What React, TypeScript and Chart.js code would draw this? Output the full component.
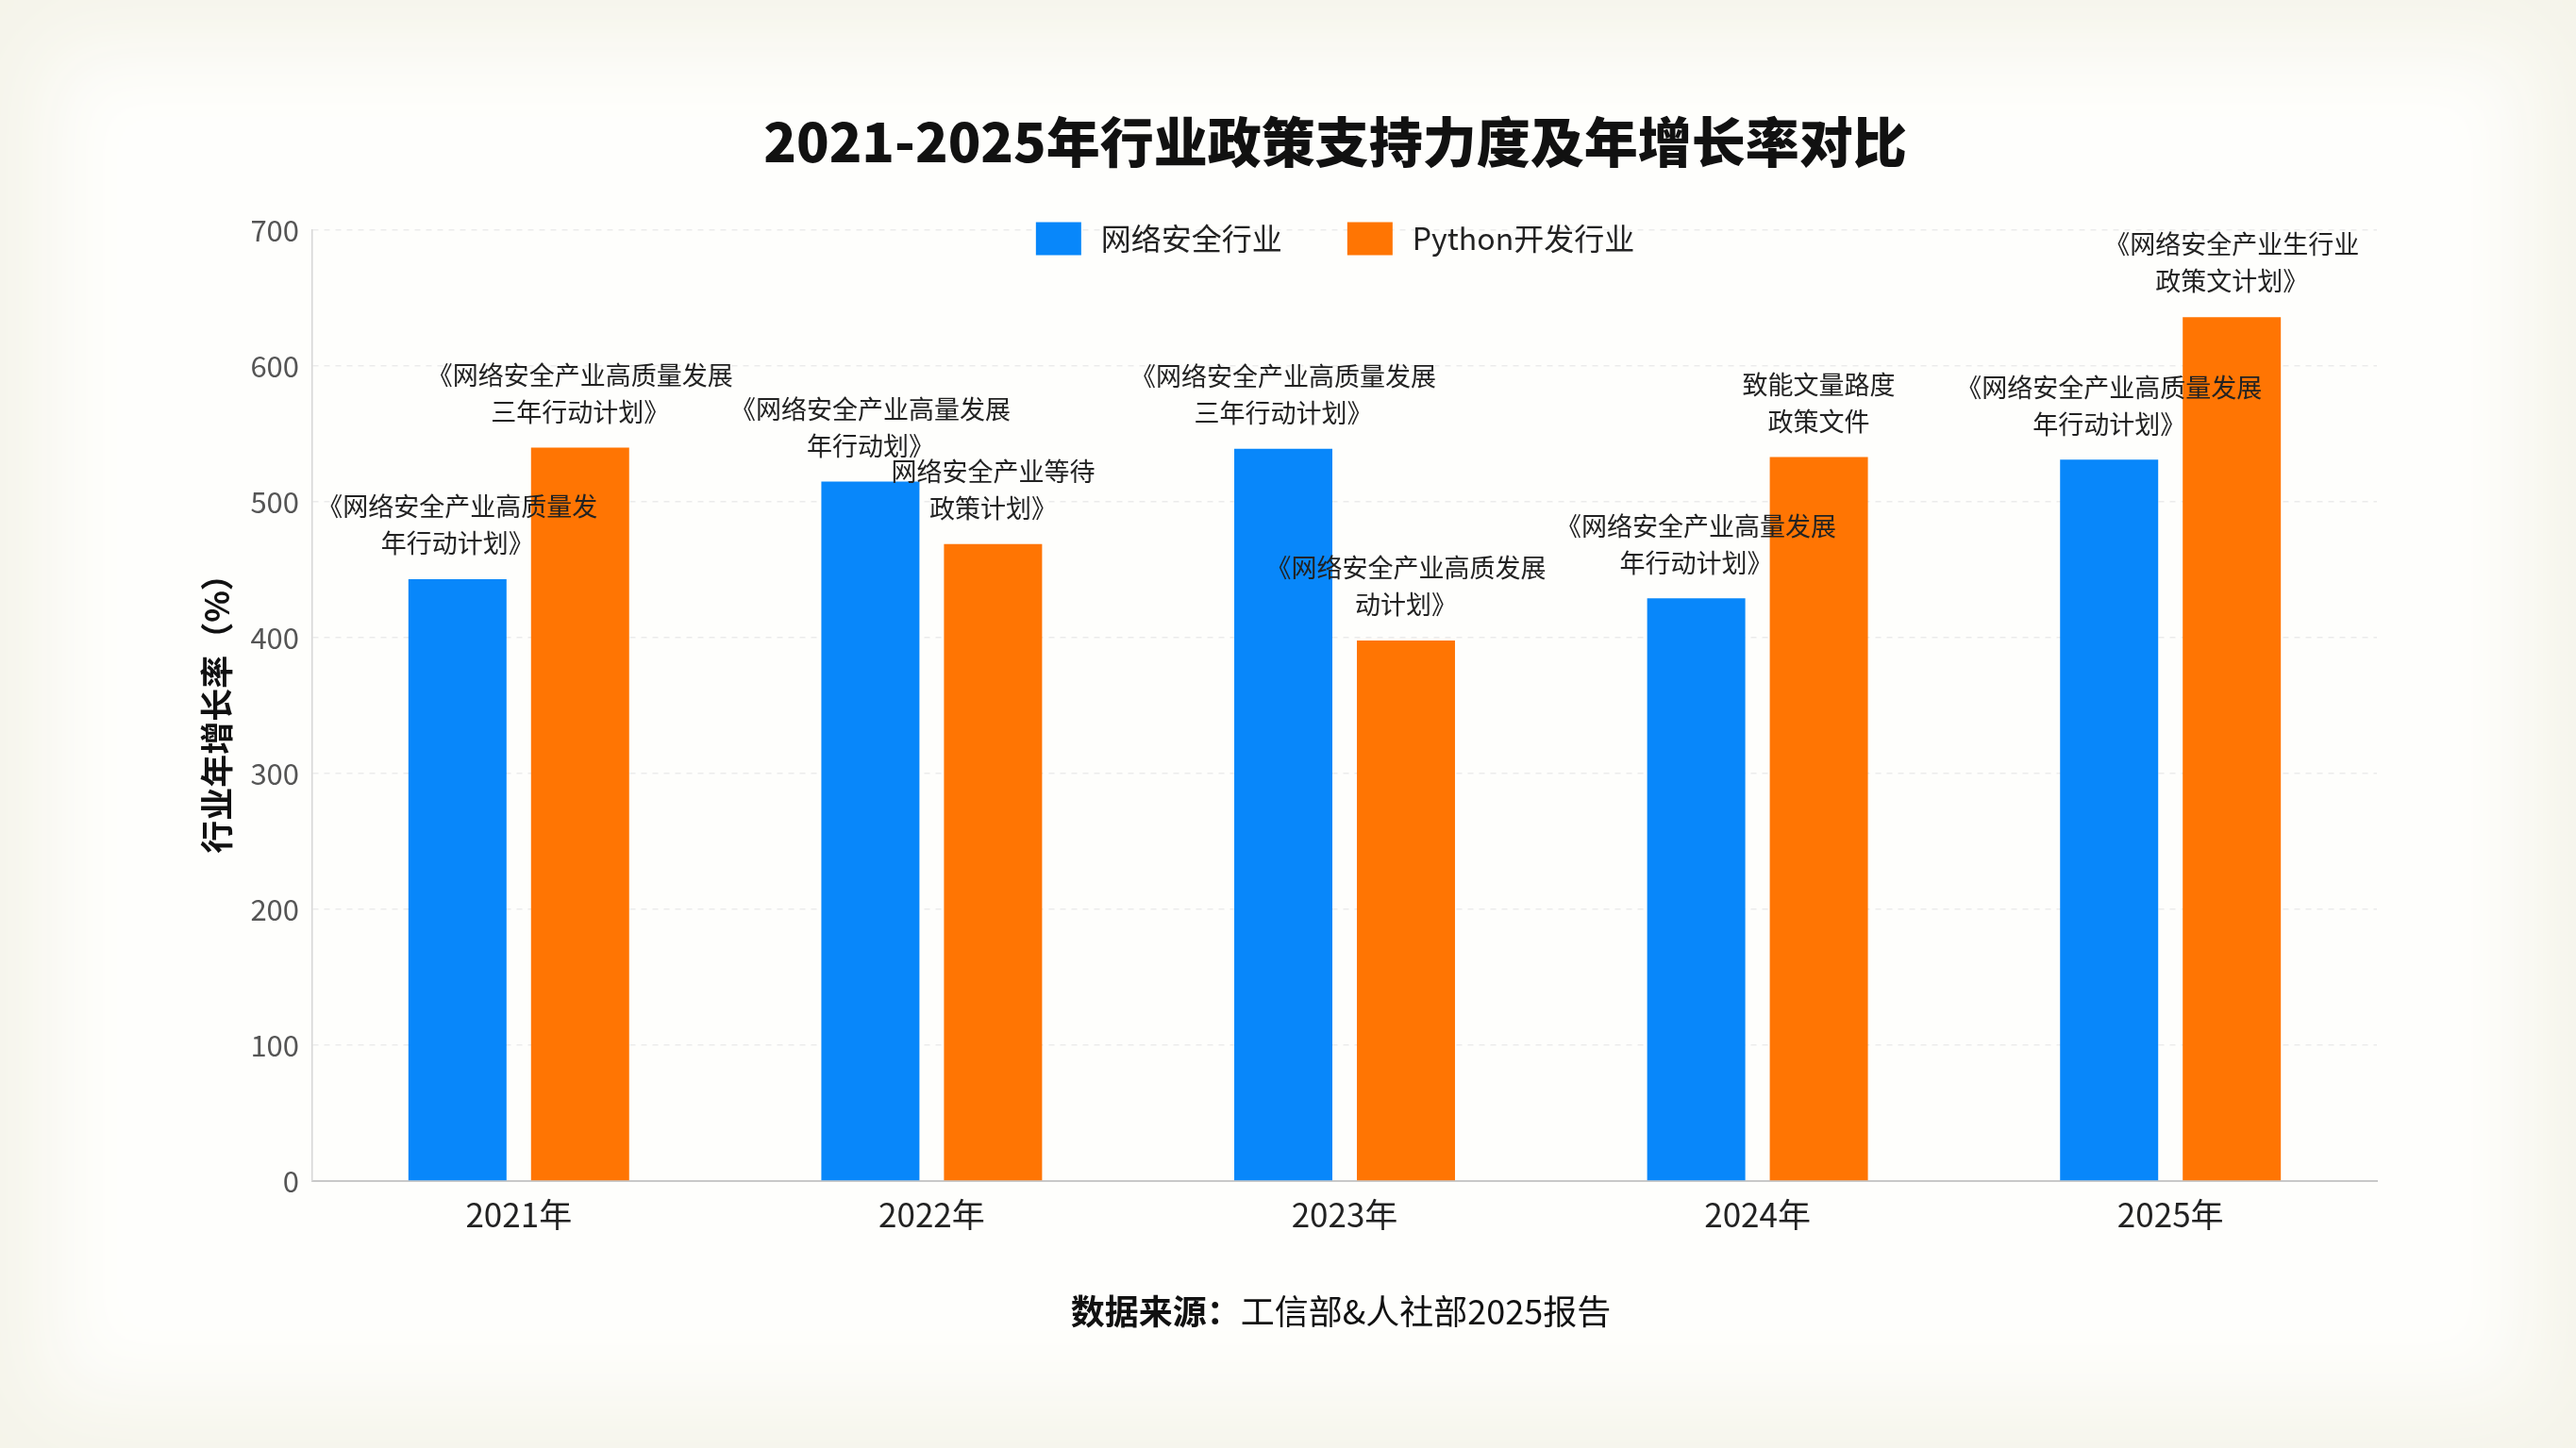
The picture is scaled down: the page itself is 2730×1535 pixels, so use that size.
import { useEffect, useRef } from 'react';
import { Chart, registerables } from 'chart.js';

Chart.register(...registerables);

const FONT = '"Noto Sans CJK SC", "Noto Sans", sans-serif';

const years = ['2021年', '2022年', '2023年', '2024年', '2025年'];
const cyberGrowth = [443, 515, 539, 429, 531];
const pythonGrowth = [540, 469, 398, 533, 636];

// policy names printed above each bar
const cyberPolicies = [
  ['《网络安全产业高质量发', '年行动计划》'],
  ['《网络安全产业高量发展', '年行动划》'],
  ['《网络安全产业高质量发展', '三年行动计划》'],
  ['《网络安全产业高量发展', '年行动计划》'],
  ['《网络安全产业高质量发展', '年行动计划》'],
];
const pythonPolicies = [
  ['《网络安全产业高质量发展', '三年行动计划》'],
  ['网络安全产业等待', '政策计划》'],
  ['《网络安全产业高质发展', '动计划》'],
  ['致能文量路度', '政策文件'],
  ['《网络安全产业生行业', '政策文计划》'],
];

const chartTitle = '2021-2025年行业政策支持力度及年增长率对比';
const yTitle = '行业年增长率（%）';
const sourceLead = '数据来源：';
const sourceRest = '工信部&人社部2025报告';

const decorPlugin = {
  id: 'decor',
  afterDatasetsDraw(chart: any) {
    const ctx = chart.ctx;
    ctx.save();
    ctx.font = `27px ${FONT}`;
    ctx.fillStyle = '#222';
    ctx.textAlign = 'center';
    ctx.textBaseline = 'middle';
    [cyberPolicies, pythonPolicies].forEach((labels, di) => {
      chart.getDatasetMeta(di).data.forEach((bar: any, i: number) => {
        const lines = labels[i];
        lines.forEach((line, k) => {
          ctx.fillText(line, bar.x, bar.y - 38 - (lines.length - 1 - k) * 39);
        });
      });
    });
    ctx.restore();
  },
  afterDraw(chart: any) {
    const ctx = chart.ctx;
    const { left, right, bottom } = chart.chartArea;
    const cx = (left + right) / 2 - 10;
    ctx.save();

    // title
    ctx.fillStyle = '#111';
    ctx.textAlign = 'center';
    ctx.textBaseline = 'middle';
    ctx.font = `900 57px ${FONT}`;
    ctx.fillText(chartTitle, cx, 150);

    // legend
    ctx.font = `32px ${FONT}`;
    const items = chart.data.datasets.map((ds: any) => ({
      label: ds.label,
      color: ds.backgroundColor,
      w: ctx.measureText(ds.label).width,
    }));
    const boxW = 48, boxH = 35, gapIn = 21, gapOut = 69;
    let total = 0;
    items.forEach((it: any, i: number) => {
      total += boxW + gapIn + it.w + (i > 0 ? gapOut : 0);
    });
    let x = cx - total / 2;
    const ly = 253;
    ctx.textAlign = 'left';
    items.forEach((it: any) => {
      ctx.fillStyle = it.color;
      ctx.fillRect(x, ly - boxH / 2, boxW, boxH);
      ctx.fillStyle = '#222';
      ctx.fillText(it.label, x + boxW + gapIn, ly);
      x += boxW + gapIn + it.w + gapOut;
    });

    // source note
    ctx.fillStyle = '#111';
    ctx.font = `bold 36px ${FONT}`;
    const w1 = ctx.measureText(sourceLead).width;
    ctx.font = `36px ${FONT}`;
    const w2 = ctx.measureText(sourceRest).width;
    const sx = cx + 6 - (w1 + w2) / 2;
    const sy = bottom + 138;
    ctx.font = `bold 36px ${FONT}`;
    ctx.fillText(sourceLead, sx, sy);
    ctx.font = `36px ${FONT}`;
    ctx.fillText(sourceRest, sx + w1, sy);

    ctx.restore();
  },
};

function GrowthChart() {
  const canvasRef = useRef<HTMLCanvasElement>(null);
  const chartRef = useRef<Chart | null>(null);

  useEffect(() => {
    if (!canvasRef.current) return;
    if (chartRef.current) chartRef.current.destroy();

    chartRef.current = new Chart(canvasRef.current, {
      type: 'bar',
      data: {
        labels: years,
        datasets: [
          {
            label: '网络安全行业',
            data: cyberGrowth,
            backgroundColor: '#0887FA',
            borderWidth: 0,
            categoryPercentage: 0.594,
            barPercentage: 0.8,
          },
          {
            label: 'Python开发行业',
            data: pythonGrowth,
            backgroundColor: '#FF7503',
            borderWidth: 0,
            categoryPercentage: 0.594,
            barPercentage: 0.8,
          },
        ],
      },
      options: {
        animation: false,
        responsive: true,
        maintainAspectRatio: false,
        layout: { padding: { top: 244, left: 205, right: 211, bottom: 203 } },
        plugins: {
          legend: { display: false },
          title: { display: false },
          tooltip: { enabled: false },
        },
        scales: {
          x: {
            grid: { display: false },
            border: { display: true, color: '#c8c8c8', width: 2 },
            ticks: { color: '#222', padding: 7, font: { family: FONT, size: 35 } },
            afterFit: (scale: any) => { scale.height = 80; },
          },
          y: {
            min: 0,
            max: 700,
            ticks: { stepSize: 100, color: '#555', padding: 14, font: { family: FONT, size: 31 } },
            grid: { color: '#ebebeb', lineWidth: 1.5, drawTicks: false },
            border: { display: true, color: '#d6d6d6', width: 1.5, dash: [6, 6] },
            title: {
              display: true,
              text: yTitle,
              color: '#111',
              padding: { top: 4, bottom: 4 },
              font: { family: FONT, size: 35, weight: 'bold' },
            },
            afterFit: (scale: any) => { scale.width = 126; },
          },
        },
      },
      plugins: [decorPlugin],
    } as any);

    return () => {
      if (chartRef.current) {
        chartRef.current.destroy();
        chartRef.current = null;
      }
    };
  }, []);

  return (
    <div
      style={{
        position: 'absolute',
        left: 0,
        top: 0,
        width: 2730,
        height: 1535,
        background: '#fefefc',
        boxShadow: 'inset 0 0 90px 50px #f5f4ea',
      }}
    >
      <canvas ref={canvasRef} style={{ display: 'block' }} />
    </div>
  );
}

export default function App() {
  return <GrowthChart />;
}
